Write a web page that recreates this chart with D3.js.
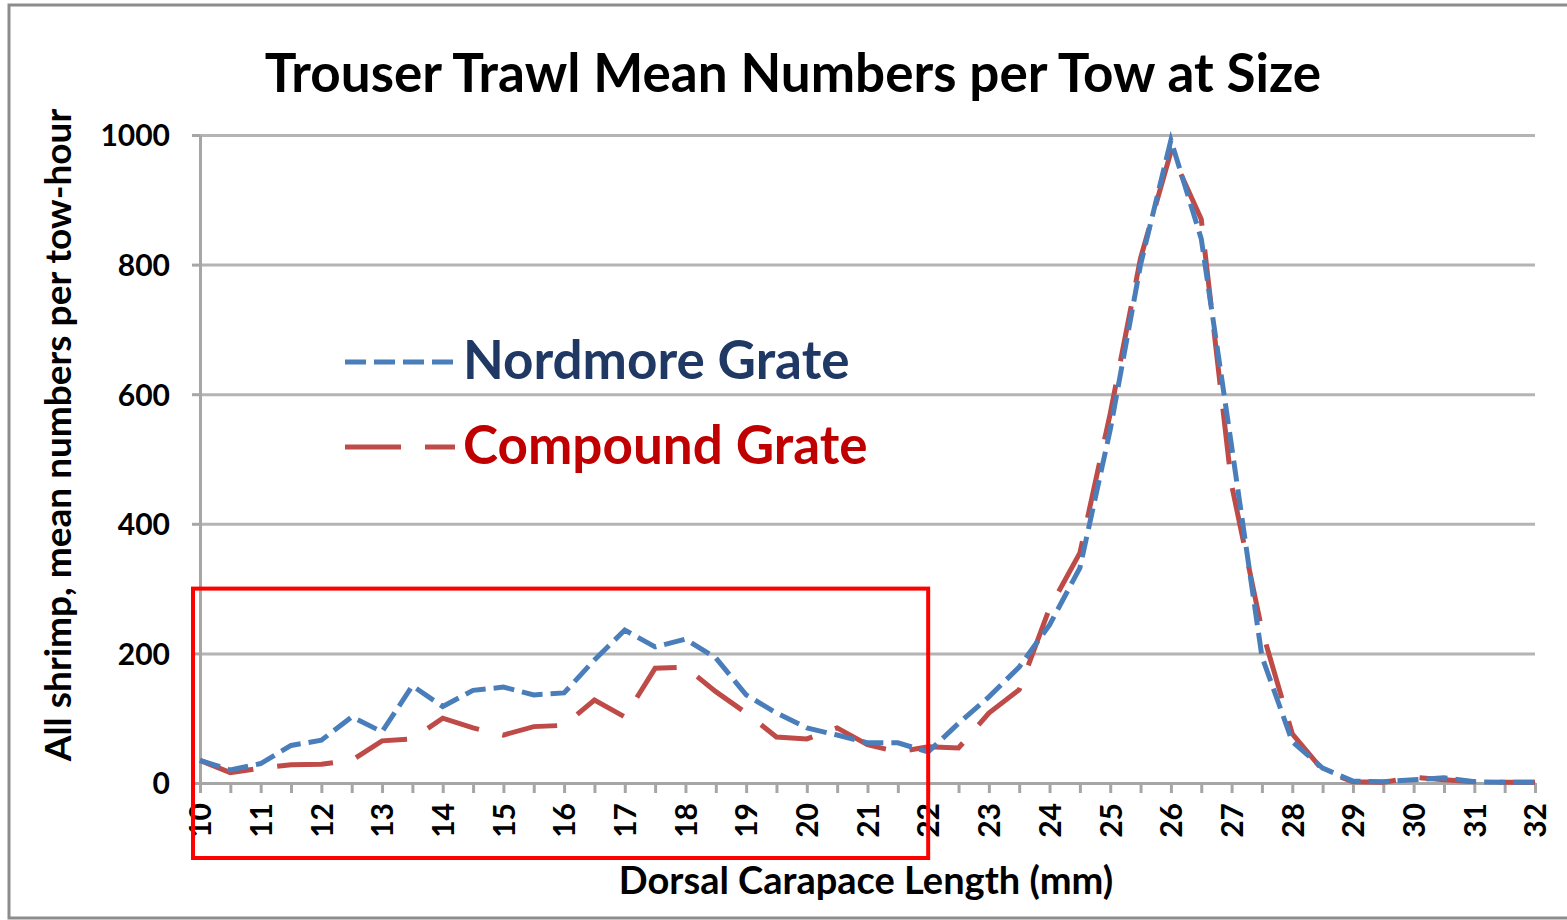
<!DOCTYPE html>
<html lang="en">
<head>
<meta charset="UTF-8">
<title>Trouser Trawl Mean Numbers per Tow at Size</title>
<script src="https://d3js.org/d3.v7.min.js"></script>
<style>
    body { margin: 0; background: #fff; }
    svg { font-family: Lato, "Open Sans", sans-serif; }
    .axis path, .axis line { stroke: #a6a6a6; stroke-width: 3; }
    .axis text { fill: #000; font-size: 30px; font-family: Lato, "Open Sans", sans-serif; font-weight: bold; }
    .grid line { stroke: #b4b4b4; stroke-width: 3; }
    .grid path { display: none; }
</style>
</head>
<body>
<svg width="1567" height="920"></svg>
<script>
// dorsal carapace length (mm), every half mm
const sizes = [10, 10.5, 11, 11.5, 12, 12.5, 13, 13.5, 14, 14.5, 15, 15.5, 16, 16.5, 17, 17.5,
               18, 18.5, 19, 19.5, 20, 20.5, 21, 21.5, 22, 22.5, 23, 23.5, 24, 24.5, 25, 25.5,
               26, 26.5, 27, 27.5, 28, 28.5, 29, 29.5, 30, 30.5, 31, 31.5, 32];
const nordmore = [35, 20, 30, 58, 66, 102, 79, 150, 118, 143, 148, 136, 139, 190, 236, 210,
                  222, 193, 136, 108, 85, 74, 62, 62, 48, 92, 133, 179, 244, 332, 545, 800,
                  992, 840, 520, 195, 64, 23, 3, 2, 5, 8, 2, 1, 1];
const compound = [35, 16, 23, 28, 29, 35, 65, 68, 100, 85, 74, 87, 89, 128, 102, 177,
                  179, 141, 108, 71, 68, 85, 59, 48, 56, 54, 108, 144, 270, 355, 570, 810,
                  974, 870, 460, 236, 76, 20, 2, 1, 9, 5, 2, 1, 1];
const yTicks = [0, 200, 400, 600, 800, 1000];
const seriesNames = ["Nordmore Grate", "Compound Grate"];

const svg = d3.select("svg");
const W = 1567, H = 920;
const margin = {top: 135, right: 32, bottom: 137, left: 200};
const width = W - margin.left - margin.right,
      height = H - margin.top - margin.bottom;

// outer frame
svg.append("rect")
    .attr("x", 9).attr("y", 5)
    .attr("width", W).attr("height", 913)
    .attr("fill", "none")
    .attr("stroke", "#8c8c8c")
    .attr("stroke-width", 3);

const g = svg.append("g")
    .attr("transform", `translate(${margin.left},${margin.top})`);

const x = d3.scaleLinear().domain([10, 32]).range([0, width]);
const y = d3.scaleLinear().domain([0, 1000]).range([height, 0]);

// gridlines
g.append("g")
    .attr("class", "grid")
    .call(d3.axisLeft(y).tickValues(yTicks.slice(1)).tickSize(-width).tickFormat(""));

// y axis
const yAxis = g.append("g")
    .attr("class", "axis")
    .call(d3.axisLeft(y).tickValues(yTicks).tickSizeInner(8).tickSizeOuter(0)
        .tickPadding(22).tickFormat(d3.format("d")));
yAxis.selectAll("text").attr("dy", "0.36em");

// x axis
const xAxis = g.append("g")
    .attr("class", "axis")
    .attr("transform", `translate(0,${height})`)
    .call(d3.axisBottom(x).tickValues(sizes).tickSizeInner(10).tickSizeOuter(0)
        .tickFormat(d => Number.isInteger(d) ? d : ""));
xAxis.selectAll("text")
    .attr("transform", "rotate(-90)")
    .attr("text-anchor", "end")
    .attr("x", -20)
    .attr("y", 0)
    .attr("dy", "0.36em");

// lines
const line = (vals) => d3.line()
    .x((d, i) => x(sizes[i]))
    .y(d => y(d))(vals);

g.append("path")
    .attr("d", line(compound))
    .attr("fill", "none")
    .attr("stroke", "#be4b48")
    .attr("stroke-width", 5)
    .attr("stroke-dasharray", "56 24");

g.append("path")
    .attr("d", line(nordmore))
    .attr("fill", "none")
    .attr("stroke", "#4a7ebb")
    .attr("stroke-width", 5)
    .attr("stroke-dasharray", "21 8");

// title and axis titles
svg.append("text")
    .attr("x", 793).attr("y", 92)
    .attr("text-anchor", "middle")
    .attr("font-size", 53).attr("font-weight", "bold")
    .text("Trouser Trawl Mean Numbers per Tow at Size");

svg.append("text")
    .attr("transform", "translate(71,435) rotate(-90)")
    .attr("text-anchor", "middle")
    .attr("font-size", 37).attr("font-weight", "bold")
    .text("All shrimp, mean numbers per tow-hour");

svg.append("text")
    .attr("x", 866).attr("y", 894)
    .attr("text-anchor", "middle")
    .attr("font-size", 38).attr("font-weight", "bold")
    .text("Dorsal Carapace Length (mm)");

// legend
const legend = [
    {name: seriesNames[0], stroke: "#4a7ebb", dash: "21 8", text: "#1f3864", y: 362},
    {name: seriesNames[1], stroke: "#be4b48", dash: "56 24", text: "#c00000", y: 447}
];
legend.forEach(l => {
    svg.append("line")
        .attr("x1", 345).attr("x2", 455)
        .attr("y1", l.y).attr("y2", l.y)
        .attr("stroke", l.stroke).attr("stroke-width", 5)
        .attr("stroke-dasharray", l.dash);
    svg.append("text")
        .attr("x", 463).attr("y", l.y + 17)
        .attr("font-size", 53).attr("font-weight", "bold")
        .attr("fill", l.text)
        .text(l.name);
});

// red highlight box around 10-22 mm
svg.append("rect")
    .attr("x", margin.left + x(10) - 7)
    .attr("y", margin.top + y(300))
    .attr("width", x(22) - x(10) + 7)
    .attr("height", y(0) - y(300) + 75)
    .attr("fill", "none")
    .attr("stroke", "#ff0000")
    .attr("stroke-width", 4);
</script>
</body>
</html>
